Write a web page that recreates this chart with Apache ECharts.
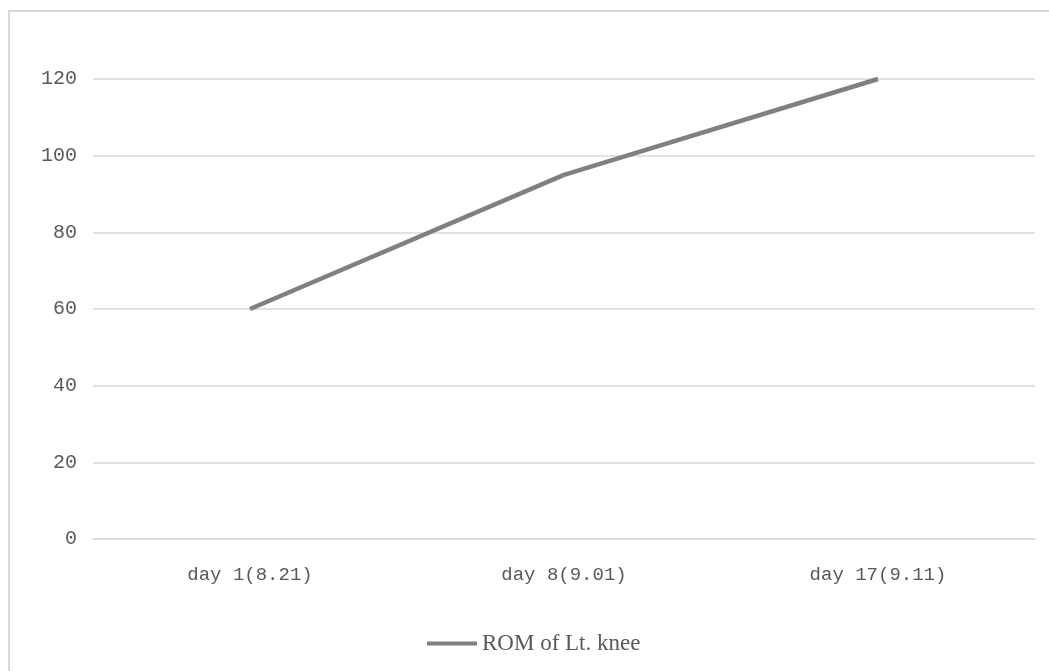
<!DOCTYPE html>
<html>
<head>
<meta charset="utf-8">
<script src="https://cdn.jsdelivr.net/npm/echarts@6/dist/echarts.min.js"></script>
<style>
  html, body { margin: 0; padding: 0; background: #ffffff; }
  #chart { width: 1049px; height: 671px; }
</style>
</head>
<body>
<div id="chart"></div>
<script>
// Range of motion of the left knee over the treatment period
const categories = ['day 1(8.21)', 'day 8(9.01)', 'day 17(9.11)'];
const romValues = [60, 95, 120];
const seriesName = 'ROM of Lt. knee';
const yTicks = { min: 0, max: 120, step: 20 };

const textColor = '#595959';
const gridColor = '#d9d9d9';

const chart = echarts.init(document.getElementById('chart'), null, { renderer: 'canvas' });

chart.setOption({
  animation: false,
  backgroundColor: '#ffffff',
  graphic: [{
    type: 'rect',
    shape: { x: 9, y: 11, width: 1060, height: 700 },
    style: { fill: 'none', stroke: gridColor, lineWidth: 2 },
    silent: true,
    z: -1
  }],
  grid: { left: 93, right: 14, top: 79, bottom: 132, containLabel: false },
  legend: {
    data: [{ name: seriesName, icon: 'rect' }],
    left: 422,
    top: 627,
    itemWidth: 50,
    itemHeight: 4,
    itemGap: 6,
    itemStyle: { color: '#808080' },
    textStyle: { color: textColor, fontFamily: 'Liberation Serif', fontSize: 23 }
  },
  xAxis: {
    type: 'category',
    data: categories,
    boundaryGap: true,
    axisLine: { show: true, lineStyle: { color: gridColor, width: 1.5 } },
    axisTick: { show: false },
    axisLabel: { color: textColor, fontFamily: 'Liberation Mono', fontSize: 19, margin: 26 }
  },
  yAxis: {
    type: 'value',
    min: yTicks.min,
    max: yTicks.max,
    interval: yTicks.step,
    axisLine: { show: false },
    axisTick: { show: false },
    splitLine: { lineStyle: { color: gridColor, width: 1.5 } },
    axisLabel: { color: textColor, fontFamily: 'Liberation Mono', fontSize: 20, margin: 16 }
  },
  series: [{
    name: seriesName,
    type: 'line',
    data: romValues,
    symbol: 'none',
    clip: false,
    lineStyle: { color: '#808080', width: 4.5 },
    itemStyle: { color: '#808080' }
  }]
});
</script>
</body>
</html>
